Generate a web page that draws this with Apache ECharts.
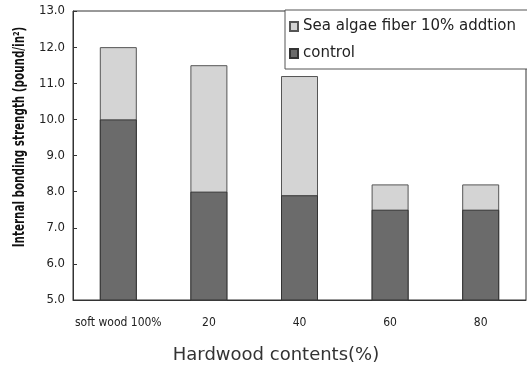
<!DOCTYPE html>
<html><head><meta charset="utf-8">
<script src="https://cdn.jsdelivr.net/npm/echarts@6/dist/echarts.min.js"></script>
<style>html,body{margin:0;padding:0;background:#fff}#c{width:527px;height:369px}</style>
</head><body><div id="c"></div>
<script>
var categories = ['soft wood 100%', '20', '40', '60', '80'];
var seaAlgae = [12.0, 11.5, 11.2, 8.2, 8.2];
var control = [10.0, 8.0, 7.9, 7.5, 7.5];
var seriesNames = ['Sea algae fiber 10% addtion', 'control'];
var yName = 'Internal bonding strength (pound/in²)';
var xName = 'Hardwood contents(%)';

var chart = echarts.init(document.getElementById('c'));
chart.setOption({
  animation: false,
  grid: {left: 73, right: 1, top: 11, bottom: 69, show: true, borderColor: '#333', borderWidth: 1},
  legend: {
    orient: 'vertical', left: 285, top: 10,
    padding: [9, 14, 8, 4], itemGap: 12,
    itemWidth: 8, itemHeight: 9, icon: 'rect',
    backgroundColor: '#fff', borderColor: '#555', borderWidth: 1,
    textStyle: {fontFamily: 'DejaVu Sans', fontSize: 15, color: '#222', padding: [0, 0, 0, 0]},
    data: seriesNames
  },
  xAxis: {
    type: 'category', data: categories,
    axisLine: {lineStyle: {color: '#333'}},
    axisTick: {inside: true, length: 4, lineStyle: {color: '#333'}},
    axisLabel: {interval: 0, margin: 17, fontFamily: 'Liberation Sans Narrow, DejaVu Sans Condensed', fontSize: 12, color: '#222'}
  },
  yAxis: {
    type: 'value', min: 5, max: 13, interval: 1,
    splitLine: {show: false},
    axisLine: {show: true, lineStyle: {color: '#333'}},
    axisTick: {show: true, inside: true, length: 4, lineStyle: {color: '#333'}},
    axisLabel: {margin: 8, fontFamily: 'Liberation Sans Narrow, DejaVu Sans Condensed', fontSize: 13, color: '#222',
      formatter: function (v) { return v.toFixed(1); }}
  },
  graphic: [
    {type: 'text', x: 20, y: 137, rotation: Math.PI / 2, scaleX: 0.72,
      style: {text: yName, fontFamily: 'Liberation Sans Narrow, DejaVu Sans Condensed', fontSize: 16, fontWeight: 'bold', fill: '#111',
        align: 'center', verticalAlign: 'middle'}},
    {type: 'text', x: 276, y: 355,
      style: {text: xName, fontFamily: 'DejaVu Sans', fontSize: 18, fill: '#333',
        align: 'center', verticalAlign: 'middle'}}
  ],
  series: [
    {name: seriesNames[0], type: 'bar', data: seaAlgae, barWidth: 37, barGap: '-100%',
      itemStyle: {color: '#d4d4d4', borderColor: '#555', borderWidth: 1}},
    {name: seriesNames[1], type: 'bar', data: control, barWidth: 37, barGap: '-100%',
      itemStyle: {color: '#6b6b6b', borderColor: '#333', borderWidth: 1}}
  ]
});
</script></body></html>
